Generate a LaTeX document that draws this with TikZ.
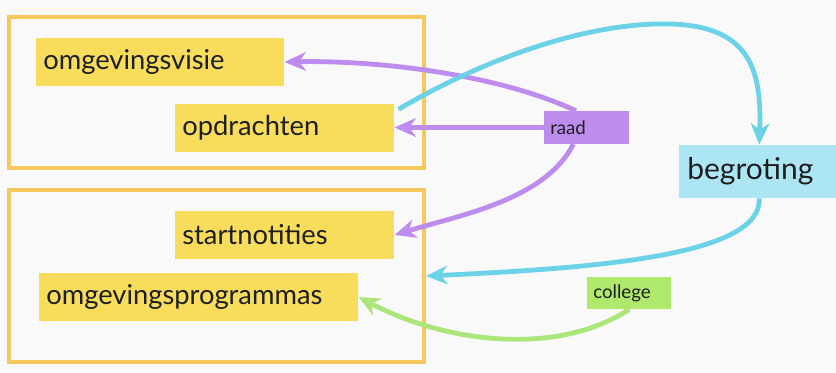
\documentclass[tikz,border=0pt]{standalone}
\usepackage{fontspec}
\setmainfont{Lato}
\usepackage{tikz}
\usetikzlibrary{arrows.meta,positioning}
\usepackage{xcolor}
\definecolor{bgwhite}{RGB}{249,249,249}
\definecolor{frameyellow}{RGB}{245,199,92}
\definecolor{boxyellow}{RGB}{248,220,92}
\definecolor{raadpurple}{RGB}{190,140,238}
\definecolor{linecyan}{RGB}{108,210,232}
\definecolor{boxcyan}{RGB}{172,230,245}
\definecolor{collegegreen}{RGB}{176,232,108}
\definecolor{linegreen}{RGB}{170,230,122}
\definecolor{textblack}{RGB}{30,30,30}
\tikzstyle{frame} = [rectangle, draw=frameyellow, line width=3pt, inner sep=0pt]
\tikzstyle{item} = [rectangle, fill=boxyellow, minimum height=36pt, inner xsep=5.25pt, align=left, text=textblack, font=\fontsize{20.5}{24}\selectfont, anchor=west]
\tikzstyle{actor} = [rectangle, minimum height=24.5pt, inner xsep=4.5pt, align=left, text=textblack, font=\fontsize{14}{16}\selectfont, anchor=west]
\tikzstyle{flow} = [line width=3.6pt, -{Stealth[length=16pt,width=14pt,inset=5pt]}]

\begin{document}
\begin{tikzpicture}[x=0.75pt, y=-0.75pt]
% background
\fill[bgwhite] (0,0) rectangle (836,372);
\useasboundingbox (0,0) rectangle (836,372);

% frames
\node[frame, minimum width=311.25pt, minimum height=113.25pt] (upperframe) at (216.5,92.5) {};
\node[frame, minimum width=311.25pt, minimum height=129pt] (lowerframe) at (216.5,276) {};

% documents
\node[item, text width=175.5pt] (visie) at (36,62) {omgevingsvisie};
\node[item, text width=153.75pt] (opdrachten) at (175,127.5) {opdrachten};
\node[item, text width=153.75pt] (notities) at (175,235) {startnotities};
\node[item, text width=228.75pt] (programmas) at (39,297) {omgevingsprogrammas};

% actors
\node[actor, fill=raadpurple, text width=54.75pt] (raad) at (544,127.5) {raad};
\node[actor, fill=collegegreen, text width=54pt, minimum height=24pt] (college) at (587,293) {college};
\node[rectangle, fill=boxcyan, minimum height=40pt, inner xsep=6pt, text width=108pt, align=left, text=textblack, font=\fontsize{22.5}{26}\selectfont, anchor=west] (begroting) at (679,171.5) {begroting};

% raad
\draw[flow, raadpurple] ([xshift=-8pt]raad.north) .. controls (500,75) and (380,60) .. (visie.east);
\draw[flow, raadpurple] (raad.west) -- (opdrachten.east);
\draw[flow, raadpurple] ([xshift=-10pt]raad.south) .. controls (545,200) and (460,215) .. (notities.east);

% begroting
\coordinate (top) at (670,24);
\draw[flow, linecyan] ([shift={(3pt,-4.5pt)}]opdrachten.north east) .. controls (500,50) and (600,22) .. (top) .. controls (750,26) and (762,70) .. (begroting.north);
\draw[flow, linecyan] (begroting.south) .. controls (762,255) and (600,268) .. (lowerframe.east);

% college
\draw[flow, linegreen] (college.south) .. controls (560,355) and (450,345) .. (programmas.east);
\end{tikzpicture}
\end{document}
